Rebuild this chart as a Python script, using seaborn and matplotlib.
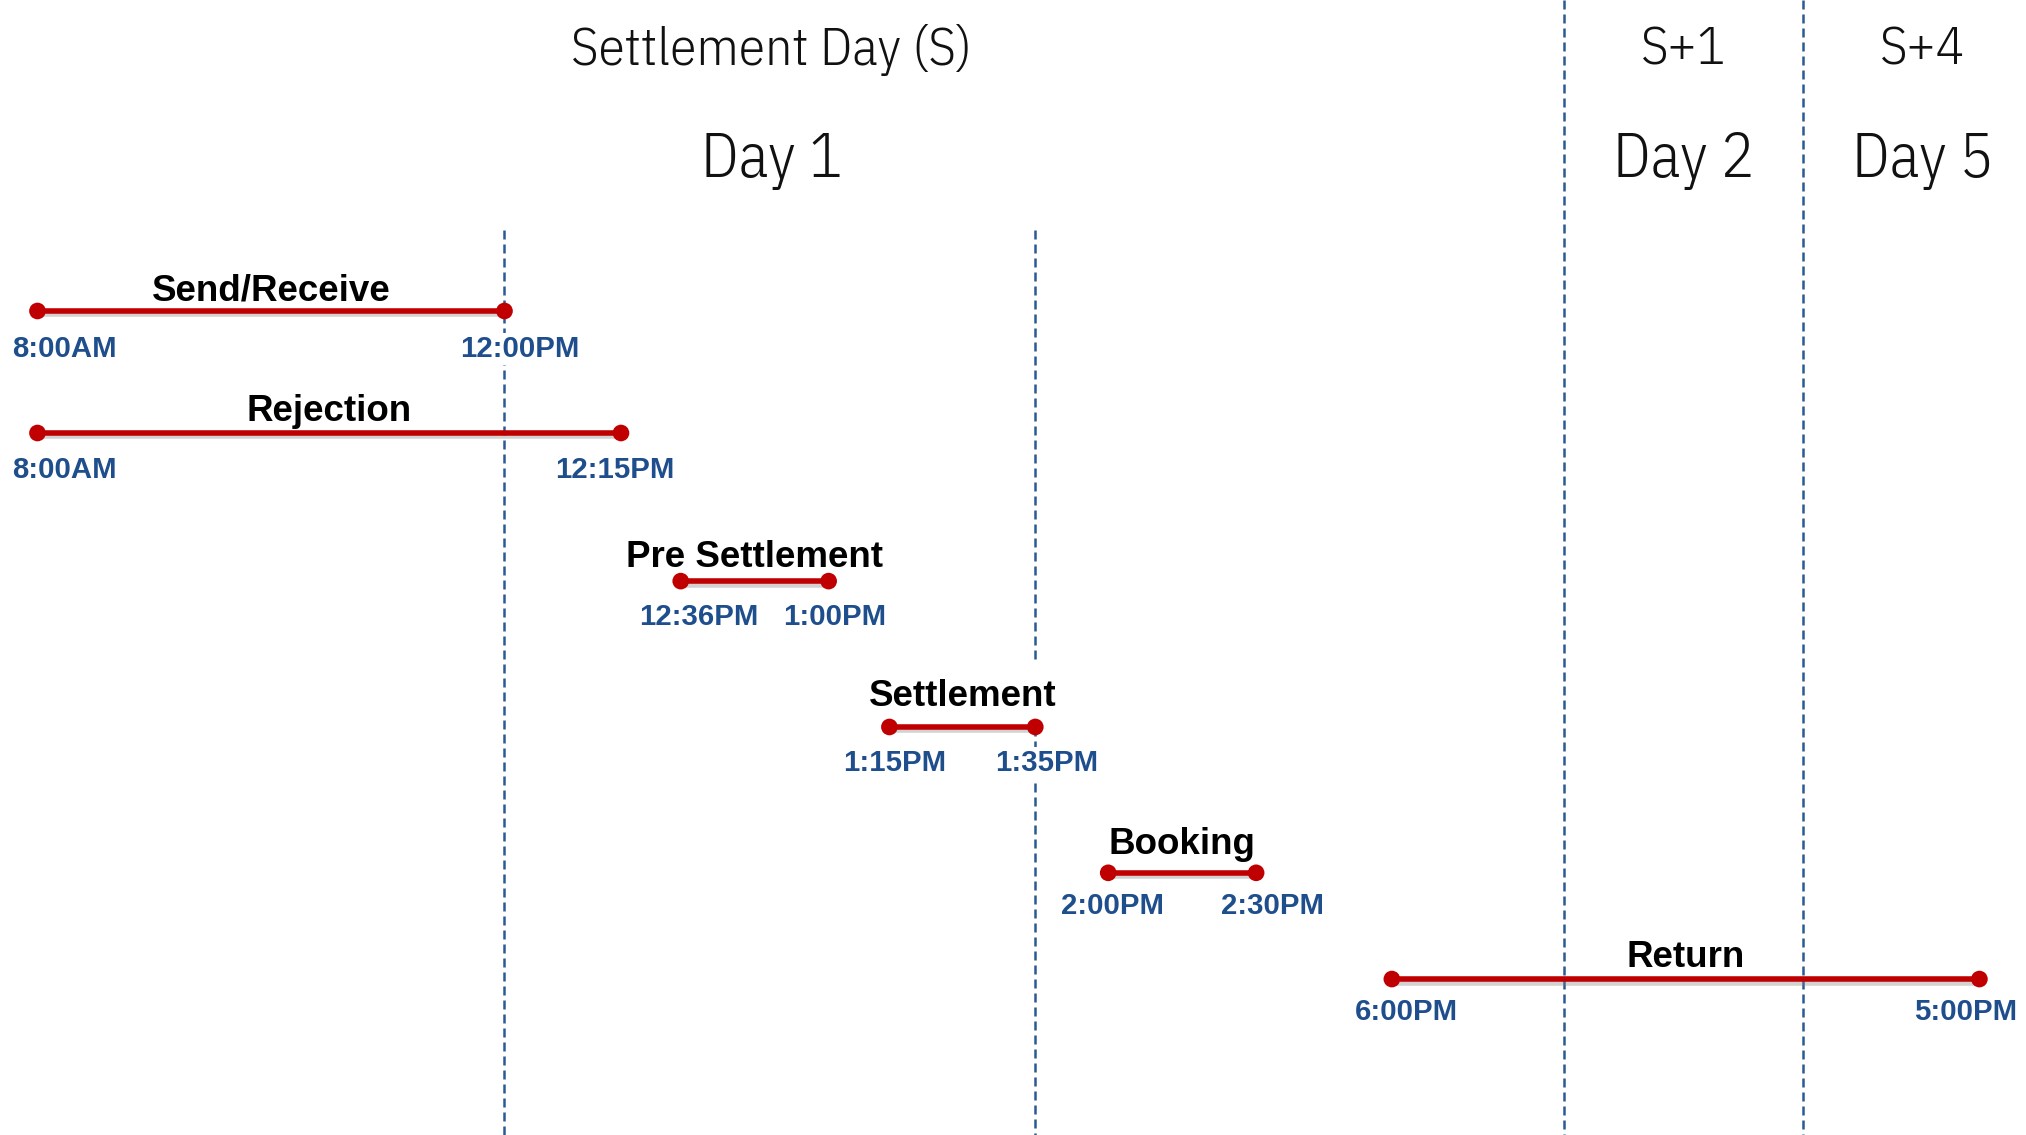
# Settlement timeline - schematic, broken time axis
import numpy as np
import pandas as pd
import seaborn as sns
import matplotlib
matplotlib.use("Agg")
import matplotlib.pyplot as plt
import matplotlib.patheffects as pe
from matplotlib.transforms import blended_transform_factory

# ---- data -------------------------------------------------------------
tasks = ["Send/Receive", "Rejection", "Pre Settlement", "Settlement", "Booking", "Return"]
# hours counted from 00:00 of day 1 (day 5 5:00PM = 4*24+17)
start_hours = [8.0, 8.0, 12.6, 13.25, 14.0, 18.0]
end_hours = [12.0, 12.25, 13.0, 13 + 35 / 60, 14.5, 4 * 24 + 17]
start_labels = ["8:00AM", "8:00AM", "12:36PM", "1:15PM", "2:00PM", "6:00PM"]
end_labels = ["12:00PM", "12:15PM", "1:00PM", "1:35PM", "2:30PM", "5:00PM"]

day_top = ["Settlement Day (S)", "S+1", "S+4"]
day_names = ["Day 1", "Day 2", "Day 5"]
day_edges = [0, 24, 96, 120]          # days 3-4 are left out of the picture
cutoff_hours = [12.0, 13 + 35 / 60]   # dashed cut-offs inside day 1
day_breaks = [24.0, 96.0]             # dashed day boundaries

# ---- layout (schematic, not to scale) ---------------------------------
# broken time axis: hours -> % of width
axis_h = [0, 8.0, 12.0, 12.25, 12.6, 13.0, 13.25, 13 + 35 / 60, 14.0, 14.5, 18.0, 24.0, 96.0, 113.0, 120.0]
axis_x = [0, 1.85, 24.9, 30.65, 33.6, 40.9, 43.9, 51.1, 54.7, 62.0, 68.7, 77.2, 89.0, 97.7, 100.0]
row_y = [27.4, 38.15, 51.2, 64.05, 76.9, 86.26]       # % of height from top
title_dy = [7.6, 8.6, 10.4, 15.0, 13.3, 8.6]          # pt above line
label_dy = [33.0, 32.4, 31.7, 31.7, 29.5, 29.5]       # pt below line
start_dx = [19.5, 19.5, 13.0, 3.7, 2.8, 10.2]
end_dx = [11.0, -4.6, 4.6, 8.4, 12.0, -10.2]
head_dx = [-7.5, 0.0, 6.0]                            # pt, heading nudges

RED = "#C00000"
BLUE = "#1F4E8C"
DASH = "#2A5A94"

sns.set_theme(style="white")
plt.rcParams["font.family"] = ["Liberation Sans", "DejaVu Sans"]

fig = plt.figure(figsize=(20.26, 11.35), dpi=100)
ax = fig.add_axes([0, 0, 1, 1])


def fwd(h):
    return np.interp(h, axis_h, axis_x)


def inv(x):
    return np.interp(x, axis_x, axis_h)


ax.set_xscale("function", functions=(fwd, inv))
ax.set_xlim(0, 120)
ax.set_ylim(100, 0)
ax.axis("off")

# dashed separators
dash_kw = dict(colors=DASH, linestyles=(0, (3.6, 2.0)), linewidth=1.8, zorder=1)
ax.vlines(cutoff_hours[0], 20.3, 100, **dash_kw)
ax.vlines(cutoff_hours[1], 20.3, 58.1, **dash_kw)
ax.vlines(cutoff_hours[1], row_y[3], 100, **dash_kw)
ax.vlines(day_breaks, 0, 100, **dash_kw)

# task bars
df = pd.DataFrame({
    "task": tasks * 2,
    "hours": start_hours + end_hours,
    "y": row_y * 2,
})
sns.lineplot(data=df, x="hours", y="y", hue="task", palette=[RED] * len(tasks),
             estimator=None, sort=False, legend=False, ax=ax,
             linewidth=4, marker="o", markersize=12, markeredgewidth=0, zorder=3)
for ln in ax.lines:
    ln.set_path_effects([pe.SimpleLineShadow(offset=(1.5, -2.5), shadow_color="gray", alpha=0.35),
                         pe.Normal()])
ax.set_xlabel("")
ax.set_ylabel("")

bg = dict(facecolor="white", edgecolor="none", pad=1.5)
bx = blended_transform_factory(ax.transAxes, ax.transData)
for i, t in enumerate(tasks):
    mid = (fwd(start_hours[i]) + fwd(end_hours[i])) / 200
    ax.annotate(t, xy=(mid, row_y[i]), xycoords=bx, xytext=(0, title_dy[i]),
                textcoords="offset points", ha="center", va="baseline",
                fontsize=26.5, fontweight="bold", color="black", zorder=4)
    for h, lab, dx in ((start_hours[i], start_labels[i], start_dx[i]),
                       (end_hours[i], end_labels[i], end_dx[i])):
        ax.annotate(lab, xy=(h, row_y[i]), xytext=(dx, -label_dy[i]),
                    textcoords="offset points", ha="center", va="baseline",
                    fontsize=21.2, fontweight="bold", color=BLUE, zorder=4, bbox=bg)

# day headings
head_kw = dict(family=["IBM Plex Sans Condensed", "DejaVu Sans"], fontstretch="condensed",
               fontweight=300, color="#111111", ha="center", va="baseline",
               textcoords="offset points")
for k, (top, name) in enumerate(zip(day_top, day_names)):
    xc = (fwd(day_edges[k]) + fwd(day_edges[k + 1])) / 200
    ax.annotate(top, xy=(xc, 5.7), xycoords=bx, xytext=(head_dx[k], 0), fontsize=38.5, **head_kw)
    ax.annotate(name, xy=(xc, 15.6), xycoords=bx, xytext=(head_dx[k], 0), fontsize=45, **head_kw)

fig.savefig("out.png", dpi=100, facecolor="white")
